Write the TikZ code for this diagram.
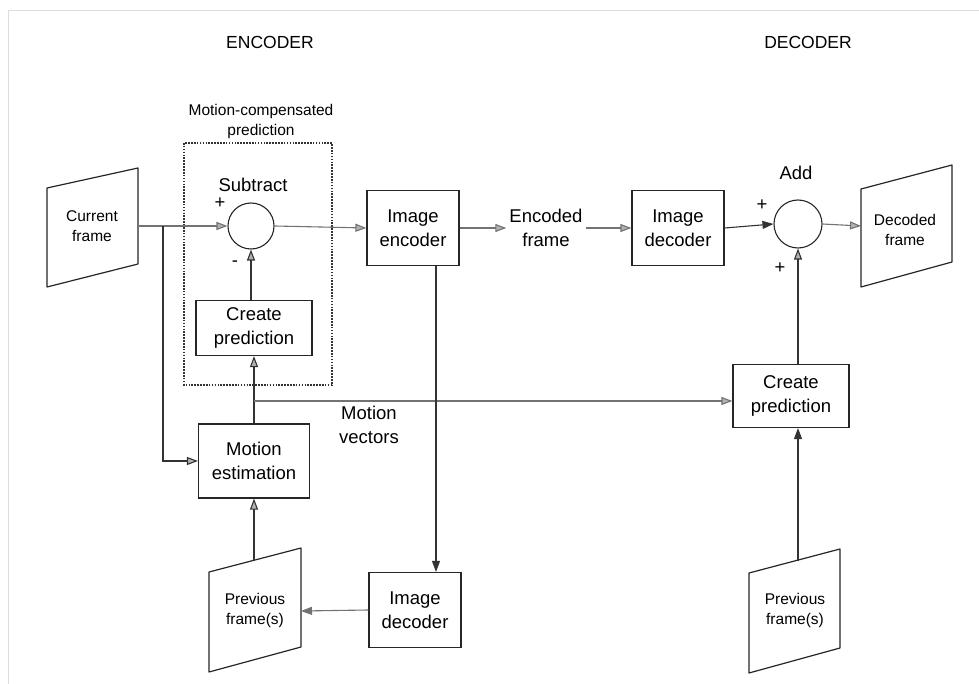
\documentclass[tikz,border=0pt]{standalone}
\usepackage{fontspec}
\setmainfont{Liberation Sans}
\usetikzlibrary{arrows.meta,calc}

\tikzset{
  block/.style={draw=black!85, line width=1.2pt, align=center, inner sep=0pt,
    font=\fontsize{18.5}{23.5}\selectfont},
  sumnode/.style={draw=black!85, line width=1.1pt, circle, inner sep=0pt},
  plain/.style={align=center, inner sep=0pt, font=\fontsize{18.5}{24}\selectfont},
  small/.style={align=center, inner sep=0pt, font=\fontsize{15.5}{20}\selectfont},
  frameshape/.style={draw=black!85, line width=1.2pt, line join=round},
  wire/.style={draw=black!80, line width=1.1pt},
  lightwire/.style={draw=black!55, line width=1.1pt},
  tipopen/.style={-{Triangle[length=11pt,width=8pt,fill=black!30]}},
  tipsolid/.style={-{Triangle[length=11pt,width=8pt]}},
}

\begin{document}
\begin{tikzpicture}[x=1pt,y=-1pt]
\useasboundingbox (0,0) rectangle (979,684);
\fill[white] (0,0) rectangle (979,684);
\draw[black!13, line width=1pt] (8,684) -- (8,11) -- (979,11);

% headings
\node[plain, font=\fontsize{17.5}{21}\selectfont] (hEnc) at (270,42) {ENCODER};
\node[plain, font=\fontsize{17.5}{21}\selectfont] (hDec) at (808,42) {DECODER};

% motion-compensated prediction group
\draw[black!80, line width=1.1pt, dash pattern=on 1.6pt off 1.3pt] (184,143) rectangle (332,385);
\node[small] (mcp) at (261,121) {Motion-compensated\\prediction};

% frames drawn as sheared sheets
\draw[frameshape] (47,188) -- (138,168) -- (138,264) -- (47,287) -- cycle;
\node[small] (cf) at (92,226) {Current\\frame};
\coordinate (cfR) at (138,226);

\draw[frameshape] (861,189) -- (952,165) -- (952,262) -- (861,287) -- cycle;
\node[small] (df) at (905,230) {Decoded\\frame};
\coordinate (dfL) at (861,226);

\draw[frameshape] (209,572) -- (301,548) -- (301,647) -- (209,672) -- cycle;
\node[small] (pf1) at (255,610) {Previous\\frame(s)};
\coordinate (pf1T) at (254,561);
\coordinate (pf1R) at (301,611);

\draw[frameshape] (749,573) -- (840,549) -- (840,648) -- (749,673) -- cycle;
\node[small] (pf2) at (795,610) {Previous\\frame(s)};
\coordinate (pf2T) at (798,561);

% summing junctions
\node[sumnode, minimum size=46pt] (sub) at (251,226) {};
\node[plain] (subL) at (253,185) {Subtract};
\node[plain] (subP) at (220,203) {+};
\node[plain] (subM) at (235,264) {-};

\node[sumnode, minimum size=48pt] (add) at (798,224) {};
\node[plain] (addL) at (796,173) {Add};
\node[plain] (addP1) at (762,205) {+};
\node[plain] (addP2) at (780,268) {+};

% processing blocks
\node[block, minimum width=116pt, minimum height=55pt] (cp1) at (254,328) {Create\\prediction};
\node[block, minimum width=111pt, minimum height=74pt] (me) at (254,461) {Motion\\estimation};
\node[block, minimum width=92pt, minimum height=75pt] (ie) at (413,228) {Image\\encoder};
\node[block, minimum width=92pt, minimum height=75pt] (id1) at (415,610) {Image\\decoder};
\node[block, minimum width=92pt, minimum height=75pt] (id2) at (678,228) {Image\\decoder};
\node[block, minimum width=116pt, minimum height=63pt] (cp2) at (791,396) {Create\\prediction};

% free labels
\node[plain] (encf) at (546,228) {Encoded\\frame};
\node[plain] (mv) at (369,425) {Motion\\vectors};

% junctions
\coordinate (j1) at (163,226);
\coordinate (j2) at (254,401);

% connectors
\draw[lightwire, tipopen] (cfR) -- (sub.west);
\draw[wire, tipopen] (j1) -- (j1 |- me.west) -- (me.west);
\draw[lightwire, tipopen] (sub.east) -- (ie.west);
\draw[lightwire, tipopen] (ie.east) -- ([xshift=-3pt]encf.west);
\draw[lightwire, tipopen] ([xshift=3pt]encf.east) -- (id2.west);
\draw[wire, tipsolid] (id2.east) -- (add.west);
\draw[lightwire, tipopen] (add.east) -- (dfL);
\draw[wire, tipopen] (cp1.north -| sub) -- (sub.south);
\draw[wire, tipopen] (me.north) -- (cp1.south);
\draw[lightwire, tipopen] (j2) -- (j2 -| cp2.west);
\draw[wire, tipsolid] ([xshift=23pt]ie.south) -- ([xshift=21pt]id1.north);
\draw[lightwire, tipsolid] (id1.west) -- (pf1R);
\draw[wire, tipopen] (pf1T) -- (me.south);
\draw[wire, tipsolid] (pf2T) -- (pf2T |- cp2.south);
\draw[wire, tipopen] (cp2.north -| add) -- (add.south);
\end{tikzpicture}
\end{document}
